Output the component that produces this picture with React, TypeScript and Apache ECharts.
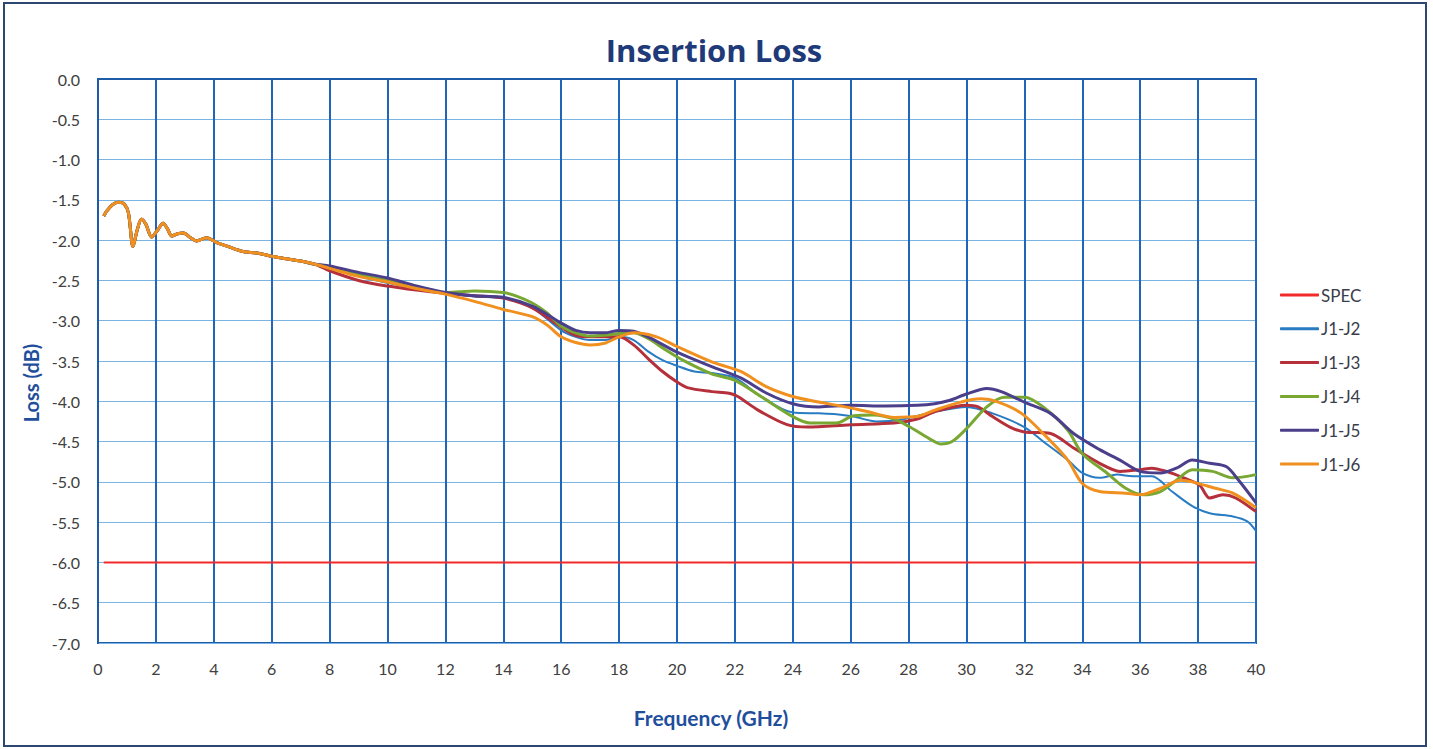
import React, { useEffect, useRef } from "react";
import * as echarts from "echarts";

const seriesNames = ["SPEC", "J1-J2", "J1-J3", "J1-J4", "J1-J5", "J1-J6"];
const seriesColors = ["#f22a2a", "#2a7cc2", "#b5303a", "#79a832", "#4b3f8c", "#f0901f"];
const seriesWidths = [2, 2, 3, 3, 3, 3];

const xTicks = { min: 0, max: 40, interval: 2 };
const yTicks = { min: -7, max: 0, interval: 0.5 };

const specLimit: number[][] = [[0.2, -6.0], [40, -6.0]];

// shared low-frequency ripple region (all traces overlap here)
const early: number[][] = [
  [0.2, -1.70], [0.3, -1.64], [0.5, -1.56], [0.7, -1.53], [0.9, -1.55], [1.05, -1.66],
  [1.21, -2.08], [1.35, -1.88], [1.5, -1.74], [1.65, -1.80], [1.85, -1.96], [2.05, -1.88],
  [2.25, -1.79], [2.4, -1.86], [2.55, -1.95], [2.75, -1.92], [2.95, -1.91], [3.2, -1.97],
  [3.4, -2.01], [3.75, -1.97], [4.1, -2.03], [4.5, -2.08], [5.0, -2.14], [5.5, -2.16],
  [6.0, -2.20], [6.5, -2.23], [7.0, -2.26], [7.5, -2.30],
];

const j1j2: number[][] = [
  [8, -2.34], [9, -2.45], [10, -2.53], [11, -2.60], [12, -2.66], [13, -2.70], [14, -2.72],
  [15, -2.84], [16, -3.12], [16.5, -3.20], [17, -3.24], [17.5, -3.24], [18, -3.20], [18.5, -3.24],
  [19, -3.38], [19.5, -3.49], [20, -3.56], [20.6, -3.63], [21.2, -3.65], [22, -3.71], [22.9, -3.94],
  [24, -4.14], [24.9, -4.15], [25.5, -4.16], [26.1, -4.19], [26.9, -4.25], [27.7, -4.23],
  [28.9, -4.13], [30, -4.07], [30.9, -4.15], [32, -4.32], [32.65, -4.50], [33.5, -4.73],
  [34, -4.89], [34.6, -4.95], [35.2, -4.91], [35.75, -4.93], [36.4, -4.93], [37.1, -5.12],
  [37.8, -5.30], [38.4, -5.39], [39.2, -5.43], [39.7, -5.49], [40, -5.61],
];

const j1j3: number[][] = [
  [8, -2.38], [9, -2.50], [10, -2.57], [11, -2.62], [12, -2.66], [13, -2.69], [14, -2.72],
  [15, -2.84], [16, -3.08], [16.5, -3.18], [17, -3.20], [17.5, -3.20], [18, -3.20], [18.5, -3.30],
  [19, -3.47], [19.5, -3.63], [20, -3.76], [20.35, -3.83], [21.2, -3.88], [21.8, -3.90],
  [22.1, -3.94], [22.8, -4.11], [23.8, -4.29], [24.5, -4.32], [26, -4.29], [27.5, -4.27],
  [28.3, -4.22], [28.9, -4.13], [30, -4.05], [30.4, -4.07], [30.9, -4.19], [31.5, -4.32],
  [32, -4.38], [32.9, -4.40], [33.7, -4.58], [34.6, -4.77], [35.3, -4.87], [36, -4.85],
  [36.4, -4.83], [36.9, -4.87], [37.5, -4.95], [38.05, -5.04], [38.4, -5.20], [38.86, -5.16],
  [39.3, -5.20], [40, -5.37],
];

const j1j4: number[][] = [
  [8, -2.33], [9, -2.43], [10, -2.50], [11, -2.58], [12, -2.65], [12.5, -2.64], [13, -2.63],
  [14, -2.65], [14.5, -2.70], [15, -2.78], [15.5, -2.90], [16, -3.07], [16.5, -3.15], [17, -3.19],
  [17.5, -3.18], [18, -3.16], [18.5, -3.15], [19, -3.22], [19.6, -3.36], [20.2, -3.49],
  [21.2, -3.66], [22, -3.74], [22.9, -3.94], [24, -4.19], [24.6, -4.27], [25.5, -4.27],
  [26.1, -4.18], [26.8, -4.17], [27.5, -4.22], [28, -4.31], [28.7, -4.46], [29.1, -4.53],
  [29.5, -4.50], [30, -4.34], [30.7, -4.07], [31.3, -3.95], [32, -3.95], [32.65, -4.07],
  [33.5, -4.36], [34, -4.65], [34.85, -4.89], [35.5, -5.08], [36.1, -5.16], [36.7, -5.12],
  [37.25, -4.98], [37.8, -4.85], [38.5, -4.87], [39.2, -4.95], [40, -4.91],
];

const j1j5: number[][] = [
  [8, -2.32], [9, -2.40], [10, -2.47], [11, -2.57], [12, -2.65], [13, -2.69], [14, -2.71],
  [15, -2.82], [16, -3.03], [16.5, -3.12], [17, -3.15], [17.5, -3.15], [18, -3.12], [18.5, -3.13],
  [19, -3.20], [20, -3.39], [21.2, -3.57], [22.2, -3.71], [23.1, -3.90], [24, -4.03],
  [24.9, -4.07], [26, -4.05], [27.2, -4.06], [28.3, -4.05], [28.9, -4.03], [29.4, -3.99],
  [30, -3.91], [30.7, -3.84], [31.2, -3.88], [32, -4.01], [32.9, -4.15], [33.7, -4.40],
  [34.6, -4.60], [35.3, -4.73], [36, -4.87], [36.7, -4.89], [37.25, -4.83], [37.8, -4.73],
  [38.4, -4.77], [38.97, -4.81], [39.4, -4.98], [40, -5.26],
];

const j1j6: number[][] = [
  [8, -2.35], [9, -2.45], [10, -2.52], [11, -2.60], [12, -2.67], [13, -2.76], [14, -2.86],
  [15, -2.95], [15.5, -3.05], [16, -3.20], [16.5, -3.27], [17, -3.30], [17.5, -3.28], [18, -3.20],
  [18.5, -3.15], [19.3, -3.20], [20, -3.32], [21.2, -3.51], [22.2, -3.63], [23.1, -3.82],
  [24, -3.94], [24.9, -4.01], [25.7, -4.06], [26.6, -4.13], [27.5, -4.20], [28.3, -4.19],
  [28.9, -4.11], [29.8, -4.01], [30.5, -3.97], [31.1, -4.01], [31.9, -4.15], [32.65, -4.40],
  [33.5, -4.73], [34, -5.02], [34.6, -5.12], [35.5, -5.14], [36, -5.16], [36.7, -5.08],
  [37.4, -4.98], [37.8, -5.00], [38.6, -5.08], [39.2, -5.14], [40, -5.32],
];

const seriesData: number[][][] = [
  specLimit,
  early.concat(j1j2),
  early.concat(j1j3),
  early.concat(j1j4),
  early.concat(j1j5),
  early.concat(j1j6),
];

const FONT = "Lato, 'Open Sans', sans-serif";
const TITLE_FONT = "'Open Sans', Lato, sans-serif";

export default function App() {
  const ref = useRef<HTMLDivElement>(null);
  useEffect(() => {
    if (!ref.current) return;
    const chart = echarts.init(ref.current, undefined, { renderer: "svg" });
    chart.setOption({
      animation: false,
      backgroundColor: "#ffffff",
      title: {
        text: "Insertion Loss",
        left: 709,
        top: 29,
        textAlign: "center",
        textStyle: { fontFamily: TITLE_FONT, fontWeight: "bold", fontSize: 31, color: "#1f3a78" },
      },
      graphic: [
        {
          type: "rect",
          shape: { x: 4, y: 3, width: 1422, height: 743 },
          style: { fill: "none", stroke: "#2d4770", lineWidth: 2 },
          silent: true,
        },
        {
          type: "text",
          x: 711,
          y: 717,
          style: {
            text: "Frequency (GHz)",
            fontFamily: FONT,
            fontWeight: "bold",
            fontSize: 21,
            fill: "#1f4e9c",
            align: "center",
            verticalAlign: "middle",
          },
          silent: true,
        },
        {
          type: "text",
          x: 31,
          y: 383,
          rotation: Math.PI / 2,
          style: {
            text: "Loss (dB)",
            fontFamily: FONT,
            fontWeight: "bold",
            fontSize: 20,
            fill: "#1f4e9c",
            align: "center",
            verticalAlign: "middle",
          },
          silent: true,
        },
      ],
      legend: {
        orient: "vertical",
        left: 1275,
        top: 281,
        icon: "roundRect",
        itemWidth: 39,
        itemHeight: 3,
        itemGap: 15.8,
        textStyle: {
          fontFamily: FONT,
          fontSize: 17,
          lineHeight: 18,
          color: "#3a3d4a",
          padding: [0, 0, 0, -3],
        },
        data: seriesNames,
      },
      grid: {
        left: 98,
        right: 177,
        top: 79,
        bottom: 106,
        show: true,
        borderColor: "#1f5ca8",
        borderWidth: 2,
        containLabel: false,
      },
      xAxis: {
        type: "value",
        min: xTicks.min,
        max: xTicks.max,
        interval: xTicks.interval,
        axisLine: { show: true, lineStyle: { color: "#1f5ca8", width: 2 } },
        axisTick: { show: false },
        axisLabel: { fontFamily: FONT, fontSize: 16, color: "#404040", margin: 17 },
        splitLine: { show: true, lineStyle: { color: "#1f66b8", width: 2 } },
      },
      yAxis: {
        type: "value",
        min: yTicks.min,
        max: yTicks.max,
        interval: yTicks.interval,
        axisLine: { show: true, lineStyle: { color: "#1f5ca8", width: 2 } },
        axisTick: { show: false },
        axisLabel: {
          fontFamily: FONT,
          fontSize: 16,
          color: "#404040",
          margin: 18,
          formatter: (v: number) => v.toFixed(1),
        },
        splitLine: { show: true, lineStyle: { color: "#7ab4e2", width: 1 } },
      },
      series: seriesNames.map((name, i) => ({
        name,
        type: "line",
        data: seriesData[i],
        showSymbol: false,
        symbol: "none",
        smooth: i === 0 ? false : 0.3,
        color: seriesColors[i],
        lineStyle: { color: seriesColors[i], width: seriesWidths[i] },
        z: i === 0 ? 3 : 2,
      })),
    });
    return () => chart.dispose();
  }, []);
  return (
    <div
      ref={ref}
      style={{ position: "absolute", left: 0, top: 0, width: 1433, height: 749 }}
    />
  );
}
